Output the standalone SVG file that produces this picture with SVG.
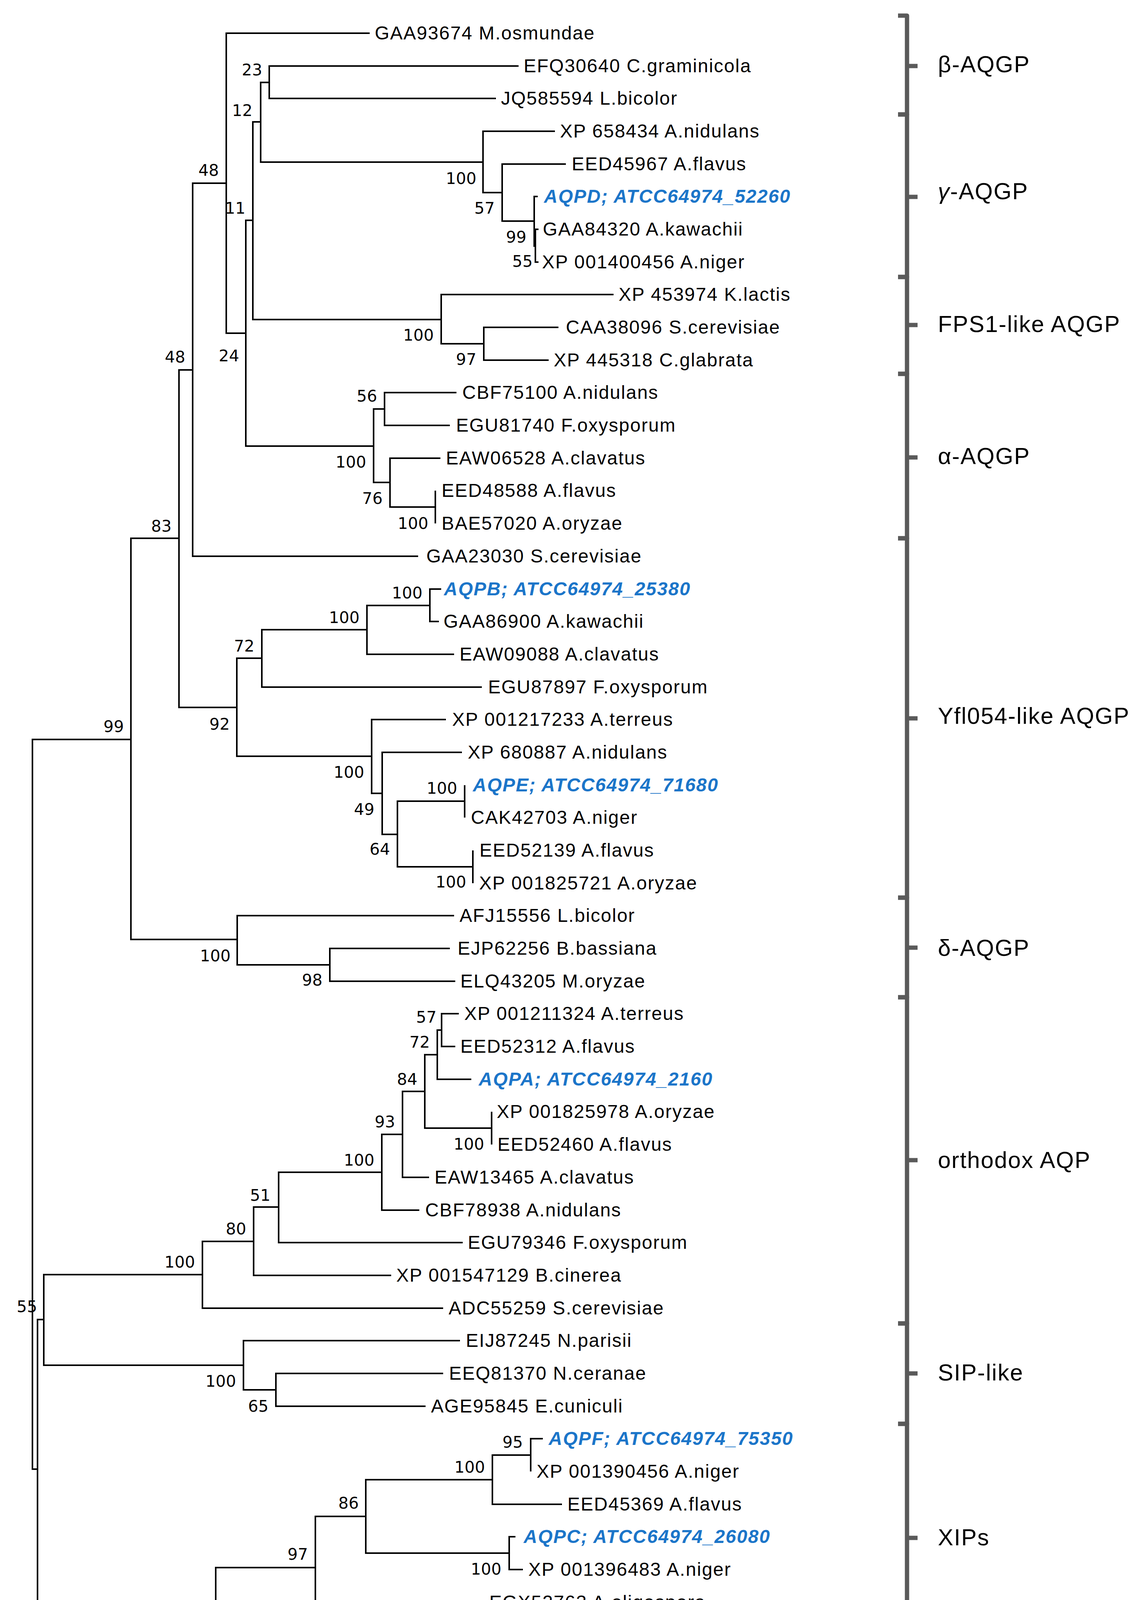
<svg xmlns="http://www.w3.org/2000/svg" width="2930" height="4473" viewBox="0 0 2930 4473">
<style>
.br{fill:none;stroke:#000;stroke-width:4;stroke-linejoin:miter}
.lf{font-family:"Liberation Sans",Arial,sans-serif;font-size:48px;letter-spacing:2px;fill:#000}
.aq{font-family:"Liberation Sans",Arial,sans-serif;font-size:48px;letter-spacing:2px;fill:#1b75c9;font-weight:bold;font-style:italic}
.bs{font-family:"DejaVu Sans",Verdana,sans-serif;font-size:41px;fill:#000;text-anchor:end}
.cl{font-family:"Liberation Sans",Arial,sans-serif;font-size:59px;letter-spacing:2px;fill:#000}
.bk{fill:none;stroke:#5a5a5a;stroke-width:11;stroke-linejoin:round}
.sb{fill:none;stroke:#000;stroke-width:4}
</style>
<rect width="2930" height="4473" fill="#fff"/>
<g id="connectors">
<path class="br" d="M335,1893 H83 V3761 H96"/>
<path class="br" d="M458,1378 H335 V2405 H607"/>
<path class="br" d="M493,947 H458 V1811 H606"/>
<path class="br" d="M579,469 H493 V1424 H1070"/>
<path class="br" d="M946,85 H579 V853 H629"/>
<path class="br" d="M647,564 H629 V1142 H956"/>
<path class="br" d="M667,312 H647 V818 H1129"/>
<path class="br" d="M689,211 H667 V415 H1236"/>
<path class="br" d="M1327,169 H689 V252 H1269"/>
<path class="br" d="M1420,336 H1236 V493 H1285"/>
<path class="br" d="M1448,420 H1285 V566 H1367"/>
<path class="br" d="M1376,503 H1367 V630 H1370"/>
<path class="br" d="M1378,587 H1370 V671 H1378"/>
<path class="br" d="M1570,754 H1129 V880 H1238"/>
<path class="br" d="M1429,838 H1238 V922 H1404"/>
<path class="br" d="M984,1047 H956 V1235 H998"/>
<path class="br" d="M1168,1005 H984 V1089 H1151"/>
<path class="br" d="M1127,1173 H998 V1298 H1114"/>
<path class="br" d="M1114,1256 V1340"/>
<path class="br" d="M670,1685 H606 V1936 H951"/>
<path class="br" d="M939,1612 H670 V1759 H1233"/>
<path class="br" d="M1100,1550 H939 V1675 H1162"/>
<path class="br" d="M1129,1508 H1100 V1591 H1123"/>
<path class="br" d="M1141,1842 H951 V2031 H978"/>
<path class="br" d="M1182,1926 H978 V2136 H1017"/>
<path class="br" d="M1189,2051 H1017 V2219 H1210"/>
<path class="br" d="M1189,2010 V2093"/>
<path class="br" d="M1210,2177 V2261"/>
<path class="br" d="M1162,2344 H607 V2470 H844"/>
<path class="br" d="M1151,2428 H844 V2512 H1165"/>
<path class="br" d="M112,3378 H96 V4141 H552"/>
<path class="br" d="M518,3263 H112 V3495 H623"/>
<path class="br" d="M649,3178 H518 V3349 H1134"/>
<path class="br" d="M713,3090 H649 V3265 H1001"/>
<path class="br" d="M977,3001 H713 V3181 H1184"/>
<path class="br" d="M1030,2904 H977 V3098 H1073"/>
<path class="br" d="M1087,2794 H1030 V3014 H1098"/>
<path class="br" d="M1119,2700 H1087 V2888 H1258"/>
<path class="br" d="M1130,2637 H1119 V2763 H1206"/>
<path class="br" d="M1174,2595 H1130 V2679 H1165"/>
<path class="br" d="M1258,2846 V2930"/>
<path class="br" d="M1177,3432 H623 V3558 H706"/>
<path class="br" d="M1134,3516 H706 V3600 H1089"/>
<path class="br" d="M807,4013 H552 V4269 H1571"/>
<path class="br" d="M936,3882 H807 V4143 H893"/>
<path class="br" d="M1260,3788 H936 V3976 H1303"/>
<path class="br" d="M1358,3725 H1260 V3851 H1438"/>
<path class="br" d="M1389,3683 H1358 V3767"/>
<path class="br" d="M1319,3934 H1303 V4018 H1338"/>
<path class="br" d="M1237,4102 H893 V4185 H1348"/>
</g>
<g id="bootstrap">
<g id="n579"><text class="bs" x="560" y="450">48</text></g>
<g id="n493"><text class="bs" x="474" y="928">48</text></g>
<g id="n689"><text class="bs" x="671" y="193">23</text></g>
<g id="n667"><text class="bs" x="646" y="297">12</text></g>
<g id="n647"><text class="bs" x="628" y="547">11</text></g>
<g id="n629"><text class="bs" x="612" y="925">24</text></g>
<g id="n1236"><text class="bs" x="1219" y="471">100</text></g>
<g id="n1285"><text class="bs" x="1266" y="547">57</text></g>
<g id="n1367"><text class="bs" x="1347" y="621">99</text></g>
<g id="n1370"><text class="bs" x="1363" y="683">55</text></g>
<g id="n1129"><text class="bs" x="1110" y="872">100</text></g>
<g id="n1238"><text class="bs" x="1219" y="934">97</text></g>
<g id="n458"><text class="bs" x="439" y="1361">83</text></g>
<g id="n335"><text class="bs" x="317" y="1874">99</text></g>
<g id="n956"><text class="bs" x="937" y="1197">100</text></g>
<g id="n984"><text class="bs" x="965" y="1028">56</text></g>
<g id="n998"><text class="bs" x="979" y="1290">76</text></g>
<g id="n1114"><text class="bs" x="1096" y="1354">100</text></g>
<g id="n606"><text class="bs" x="588" y="1868">92</text></g>
<g id="n670"><text class="bs" x="651" y="1668">72</text></g>
<g id="n939"><text class="bs" x="920" y="1595">100</text></g>
<g id="n1100"><text class="bs" x="1081" y="1532">100</text></g>
<g id="n951"><text class="bs" x="932" y="1991">100</text></g>
<g id="n978"><text class="bs" x="958" y="2086">49</text></g>
<g id="n1017"><text class="bs" x="998" y="2188">64</text></g>
<g id="n1189"><text class="bs" x="1170" y="2032">100</text></g>
<g id="n1210"><text class="bs" x="1193" y="2272">100</text></g>
<g id="n607"><text class="bs" x="590" y="2461">100</text></g>
<g id="n844"><text class="bs" x="825" y="2523">98</text></g>
<g id="n1130"><text class="bs" x="1117" y="2618">57</text></g>
<g id="n1119"><text class="bs" x="1100" y="2682">72</text></g>
<g id="n1087"><text class="bs" x="1068" y="2777">84</text></g>
<g id="n1030"><text class="bs" x="1011" y="2886">93</text></g>
<g id="n1258"><text class="bs" x="1239" y="2943">100</text></g>
<g id="n977"><text class="bs" x="958" y="2984">100</text></g>
<g id="n713"><text class="bs" x="692" y="3074">51</text></g>
<g id="n649"><text class="bs" x="630" y="3160">80</text></g>
<g id="n518"><text class="bs" x="499" y="3245">100</text></g>
<g id="n112"><text class="bs" x="95" y="3359">55</text></g>
<g id="n623"><text class="bs" x="604" y="3550">100</text></g>
<g id="n706"><text class="bs" x="687" y="3614">65</text></g>
<g id="n1358"><text class="bs" x="1338" y="3706">95</text></g>
<g id="n1260"><text class="bs" x="1241" y="3770">100</text></g>
<g id="n936"><text class="bs" x="918" y="3862">86</text></g>
<g id="n807"><text class="bs" x="788" y="3993">97</text></g>
<g id="n1303"><text class="bs" x="1283" y="4031">100</text></g>
<g id="n552"><text class="bs" x="533" y="4197">99</text></g>
<g id="n893"><text class="bs" x="874" y="4199">65</text></g>
</g>
<g id="leaves">
<g id="leaf01"><text class="lf" x="959" y="101">GAA93674 M.osmundae</text></g>
<g id="leaf02"><text class="lf" x="1340" y="185">EFQ30640 C.graminicola</text></g>
<g id="leaf03"><text class="lf" x="1282" y="268">JQ585594 L.bicolor</text></g>
<g id="leaf04"><text class="lf" x="1433" y="352">XP 658434 A.nidulans</text></g>
<g id="leaf05"><text class="lf" x="1463" y="436">EED45967 A.flavus</text></g>
<g id="leaf06"><text class="aq" x="1392" y="519">AQPD; ATCC64974_52260</text></g>
<g id="leaf07"><text class="lf" x="1389" y="603">GAA84320 A.kawachii</text></g>
<g id="leaf08"><text class="lf" x="1387" y="687">XP 001400456 A.niger</text></g>
<g id="leaf09"><text class="lf" x="1583" y="770">XP 453974 K.lactis</text></g>
<g id="leaf10"><text class="lf" x="1448" y="854">CAA38096 S.cerevisiae</text></g>
<g id="leaf11"><text class="lf" x="1417" y="938">XP 445318 C.glabrata</text></g>
<g id="leaf12"><text class="lf" x="1183" y="1021">CBF75100 A.nidulans</text></g>
<g id="leaf13"><text class="lf" x="1167" y="1105">EGU81740 F.oxysporum</text></g>
<g id="leaf14"><text class="lf" x="1141" y="1189">EAW06528 A.clavatus</text></g>
<g id="leaf15"><text class="lf" x="1130" y="1272">EED48588 A.flavus</text></g>
<g id="leaf16"><text class="lf" x="1130" y="1356">BAE57020 A.oryzae</text></g>
<g id="leaf17"><text class="lf" x="1091" y="1440">GAA23030 S.cerevisiae</text></g>
<g id="leaf18"><text class="aq" x="1136" y="1524">AQPB; ATCC64974_25380</text></g>
<g id="leaf19"><text class="lf" x="1135" y="1607">GAA86900 A.kawachii</text></g>
<g id="leaf20"><text class="lf" x="1176" y="1691">EAW09088 A.clavatus</text></g>
<g id="leaf21"><text class="lf" x="1249" y="1775">EGU87897 F.oxysporum</text></g>
<g id="leaf22"><text class="lf" x="1157" y="1858">XP 001217233 A.terreus</text></g>
<g id="leaf23"><text class="lf" x="1197" y="1942">XP 680887 A.nidulans</text></g>
<g id="leaf24"><text class="aq" x="1210" y="2026">AQPE; ATCC64974_71680</text></g>
<g id="leaf25"><text class="lf" x="1205" y="2109">CAK42703 A.niger</text></g>
<g id="leaf26"><text class="lf" x="1227" y="2193">EED52139 A.flavus</text></g>
<g id="leaf27"><text class="lf" x="1226" y="2277">XP 001825721 A.oryzae</text></g>
<g id="leaf28"><text class="lf" x="1176" y="2360">AFJ15556 L.bicolor</text></g>
<g id="leaf29"><text class="lf" x="1171" y="2444">EJP62256 B.bassiana</text></g>
<g id="leaf30"><text class="lf" x="1178" y="2528">ELQ43205 M.oryzae</text></g>
<g id="leaf31"><text class="lf" x="1188" y="2611">XP 001211324 A.terreus</text></g>
<g id="leaf32"><text class="lf" x="1178" y="2695">EED52312 A.flavus</text></g>
<g id="leaf33"><text class="aq" x="1225" y="2779">AQPA; ATCC64974_2160</text></g>
<g id="leaf34"><text class="lf" x="1271" y="2862">XP 001825978 A.oryzae</text></g>
<g id="leaf35"><text class="lf" x="1273" y="2946">EED52460 A.flavus</text></g>
<g id="leaf36"><text class="lf" x="1112" y="3030">EAW13465 A.clavatus</text></g>
<g id="leaf37"><text class="lf" x="1088" y="3114">CBF78938 A.nidulans</text></g>
<g id="leaf38"><text class="lf" x="1197" y="3197">EGU79346 F.oxysporum</text></g>
<g id="leaf39"><text class="lf" x="1014" y="3281">XP 001547129 B.cinerea</text></g>
<g id="leaf40"><text class="lf" x="1148" y="3365">ADC55259 S.cerevisiae</text></g>
<g id="leaf41"><text class="lf" x="1192" y="3448">EIJ87245 N.parisii</text></g>
<g id="leaf42"><text class="lf" x="1149" y="3532">EEQ81370 N.ceranae</text></g>
<g id="leaf43"><text class="lf" x="1103" y="3616">AGE95845 E.cuniculi</text></g>
<g id="leaf44"><text class="aq" x="1404" y="3699">AQPF; ATCC64974_75350</text></g>
<g id="leaf45"><text class="lf" x="1373" y="3783">XP 001390456 A.niger</text></g>
<g id="leaf46"><text class="lf" x="1452" y="3867">EED45369 A.flavus</text></g>
<g id="leaf47"><text class="aq" x="1340" y="3950">AQPC; ATCC64974_26080</text></g>
<g id="leaf48"><text class="lf" x="1352" y="4034">XP 001396483 A.niger</text></g>
<g id="leaf49"><text class="lf" x="1252" y="4118">EGX52763 A.oligospora</text></g>
<g id="leaf50"><text class="lf" x="1359" y="4201">XP 001396483 A.niger</text></g>
<g id="leaf51"><text class="aq" x="1588" y="4285">AQPG; ATCC64974_111300</text></g>
</g>
<g id="clades">
<g id="clade-beta"><path class="bk" d="M2298,40 H2321 V293 H2298 M2321,169 H2348"/><text class="cl" x="2400" y="185">β-AQGP</text></g>
<g id="clade-gamma"><path class="bk" d="M2298,293 H2321 V709 H2298 M2321,504 H2348"/><text class="cl" x="2400" y="510"><tspan font-style="italic">γ</tspan>-AQGP</text></g>
<g id="clade-fps1"><path class="bk" d="M2298,709 H2321 V957 H2298 M2321,832 H2348"/><text class="cl" x="2400" y="850">FPS1-like AQGP</text></g>
<g id="clade-alpha"><path class="bk" d="M2298,957 H2321 V1378 H2298 M2321,1171 H2348"/><text class="cl" x="2400" y="1188">α-AQGP</text></g>
<g id="clade-yfl054"><path class="bk" d="M2298,1378 H2321 V2298 H2298 M2321,1839 H2348"/><text class="cl" x="2400" y="1853">Yfl054-like AQGP</text></g>
<g id="clade-delta"><path class="bk" d="M2298,2298 H2321 V2553 H2298 M2321,2426 H2348"/><text class="cl" x="2400" y="2447">δ-AQGP</text></g>
<g id="clade-orthodox"><path class="bk" d="M2298,2553 H2321 V3388 H2298 M2321,2970 H2348"/><text class="cl" x="2400" y="2990">orthodox AQP</text></g>
<g id="clade-sip"><path class="bk" d="M2298,3388 H2321 V3645 H2298 M2321,3516 H2348"/><text class="cl" x="2400" y="3534">SIP-like</text></g>
<g id="clade-xips"><path class="bk" d="M2298,3645 H2321 V4228 H2298 M2321,3937 H2348"/><text class="cl" x="2400" y="3956">XIPs</text></g>
<g id="clade-unknown"><path class="bk" d="M2298,4228 H2321 V4296 H2298 M2321,4261 H2348"/><text class="cl" x="2400" y="4281">unknown</text></g>
</g>
<g id="scalebar">
<path class="sb" d="M235,4390 H515 M235,4374 V4406 M515,4374 V4406"/>
<text class="bs" x="375" y="4441" style="text-anchor:middle">0.20</text>
</g>
</svg>
